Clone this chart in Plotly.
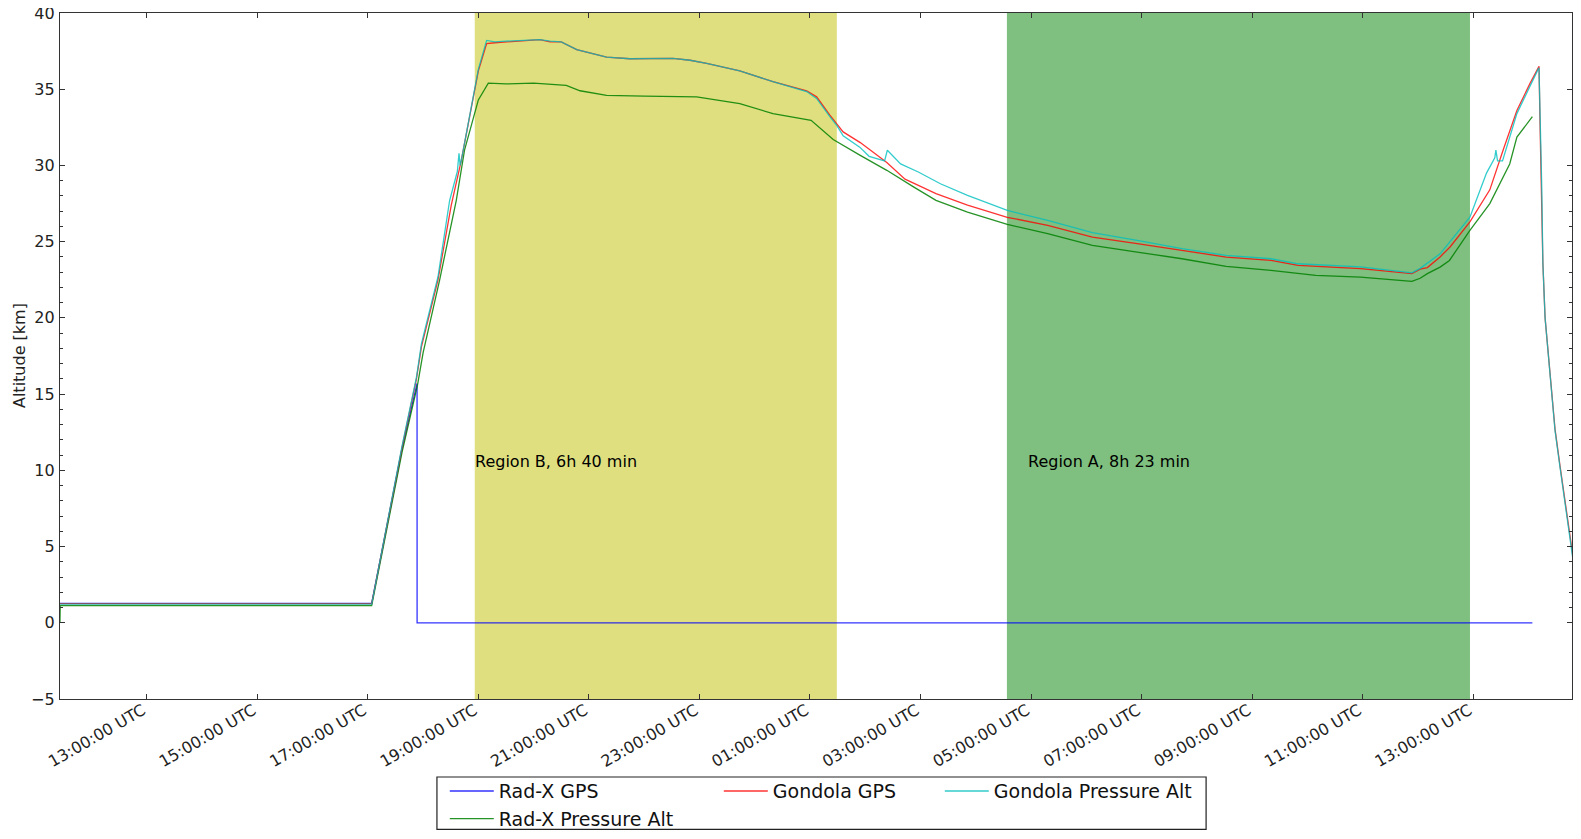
import pandas as pd
import plotly.graph_objects as go

# ---- data (hours since 00:00 UTC of launch day, altitude in km) ----
radx_gps_h = [11.43, 17.07, 17.62, 17.891, 17.892, 38.07]
radx_gps_km = [1.27, 1.27, 11.4, 15.7, 0.0, 0.0]

radx_press_h = [11.43, 11.435, 17.07, 17.62, 17.90, 18.0, 18.30, 18.60, 18.75, 19.0, 19.18, 19.5,
                20.0, 20.59, 20.84, 21.32, 22.0, 22.95, 23.73, 24.33, 25.02, 25.42, 25.91, 26.39,
                26.88, 27.28, 27.85, 28.57, 29.30, 30.11, 30.92, 31.73, 32.53, 33.34, 34.15, 34.96,
                35.89, 36.04, 36.17, 36.40, 36.57, 36.94, 37.30, 37.66, 37.79, 37.97, 38.07]
radx_press_km = [0.0, 1.13, 1.13, 11.2, 15.6, 17.7, 22.5, 27.7, 31.0, 34.3, 35.4, 35.35,
                 35.4, 35.25, 34.9, 34.6, 34.55, 34.5, 34.05, 33.4, 32.96, 31.7, 30.66, 29.68,
                 28.58, 27.71, 26.94, 26.14, 25.52, 24.76, 24.32, 23.88, 23.38, 23.12, 22.79, 22.68,
                 22.4, 22.6, 22.9, 23.33, 23.77, 25.74, 27.5, 30.1, 31.86, 32.74, 33.2]

gondola_gps_h = [11.43, 17.07, 17.62, 17.88, 17.97, 18.27, 18.51, 18.69, 19.0, 19.15, 19.3, 19.5,
                 19.8, 20.11, 20.3, 20.5, 20.78, 21.0, 21.32, 21.74, 22.2, 22.52, 22.83, 23.13,
                 23.73, 24.33, 24.94, 25.12, 25.36, 25.49, 25.60, 25.91, 26.39, 26.72, 27.28, 27.85,
                 28.57, 29.30, 30.11, 30.92, 31.73, 32.53, 33.34, 33.83, 34.96, 35.89, 36.04, 36.17,
                 36.40, 36.58, 36.94, 37.30, 37.54, 37.79, 38.03, 38.19, 38.21, 38.23, 38.26, 38.30,
                 38.39, 38.48, 38.57, 38.69, 38.81, 38.93, 39.0]
gondola_gps_km = [1.25, 1.25, 11.5, 16.0, 18.1, 22.5, 27.4, 30.3, 36.2, 38.0, 38.05, 38.1,
                  38.15, 38.25, 38.1, 38.1, 37.6, 37.4, 37.1, 37.0, 37.0, 37.03, 36.9, 36.7,
                  36.2, 35.5, 34.9, 34.5, 33.3, 32.7, 32.2, 31.5, 30.2, 29.1, 28.15, 27.4,
                  26.6, 26.07, 25.3, 24.87, 24.43, 23.99, 23.77, 23.45, 23.23, 22.9, 23.2, 23.3,
                  24.0, 24.65, 26.3, 28.4, 31.0, 33.6, 35.4, 36.5, 32.5, 28.0, 23.6, 20.0,
                  16.36, 12.7, 10.3, 7.14, 4.2, 1.8, 1.2]

gondola_press_h = [11.43, 17.07, 17.62, 17.88, 17.97, 18.27, 18.48, 18.62, 18.65, 18.67, 18.69, 19.0,
                   19.15, 19.3, 19.5, 19.8, 20.11, 20.3, 20.5, 20.78, 21.0, 21.32, 21.74, 22.2,
                   22.52, 22.83, 23.13, 23.73, 24.33, 24.94, 25.12, 25.36, 25.49, 25.60, 25.90, 26.07,
                   26.35, 26.40, 26.64, 26.96, 27.36, 27.85, 28.57, 29.30, 30.11, 30.92, 31.73, 32.53,
                   33.34, 33.83, 34.96, 35.89, 36.04, 36.40, 36.94, 37.24, 37.39, 37.41, 37.44, 37.53,
                   37.79, 38.18, 38.19, 38.24, 38.26, 38.30, 38.39, 38.48, 38.57, 38.69, 38.81, 38.93, 39.0]
gondola_press_km = [1.22, 1.22, 11.6, 16.1, 18.3, 22.7, 27.7, 29.6, 30.8, 30.0, 30.3, 36.3,
                    38.2, 38.1, 38.15, 38.2, 38.25, 38.15, 38.1, 37.6, 37.4, 37.1, 37.0, 37.0,
                    37.03, 36.9, 36.7, 36.2, 35.5, 34.85, 34.4, 33.2, 32.6, 31.95, 31.2, 30.6,
                    30.3, 31.0, 30.1, 29.57, 28.8, 28.04, 27.05, 26.4, 25.6, 25.08, 24.54, 24.1,
                    23.88, 23.55, 23.35, 22.95, 23.25, 24.2, 26.6, 29.5, 30.5, 31.0, 30.3, 30.3,
                    33.4, 36.35, 36.4, 28.5, 23.6, 20.0, 16.3, 12.6, 10.2, 7.0, 4.0, 1.5, 0.9]

# shaded regions (start hour, end hour, label, label hour, colour)
regions = [
    (18.935, 25.486, "Region B, 6h 40 min", 19.0, "rgba(191,191,0,0.5)"),
    (28.563, 36.941, "Region A, 8h 23 min", 29.0, "rgba(0,128,0,0.5)"),
]
label_alt_km = 10.6

x_range_h = [11.431, 38.787]
y_range = [-5, 40]

base = pd.Timestamp("2015-09-25 00:00:00")


def to_time(hours):
    return [base + pd.Timedelta(hours=h) for h in hours]


FONT = "DejaVu Sans"
fig = go.Figure()

series = [
    ("Rad-X GPS", radx_gps_h, radx_gps_km, "rgba(0,0,255,0.8)", "a", 215),
    ("Rad-X Pressure Alt", radx_press_h, radx_press_km, "rgba(0,128,0,0.85)", "a", 215),
    ("Gondola GPS", gondola_gps_h, gondola_gps_km, "rgba(255,0,0,0.8)", "b", 162),
    ("Gondola Pressure Alt", gondola_press_h, gondola_press_km, "rgba(0,191,191,0.8)", "c", 212),
]
for name, h, km, col, grp, lw in series:
    fig.add_trace(go.Scatter(
        x=to_time(h), y=km, mode="lines", name=name,
        line=dict(color=col, width=1.3),
        legendgroup=grp, legendwidth=lw,
    ))

for start, end, label, lab_h, col in regions:
    fig.add_shape(type="rect", xref="x", yref="paper",
                  x0=base + pd.Timedelta(hours=start), x1=base + pd.Timedelta(hours=end),
                  y0=0, y1=1, fillcolor=col, line=dict(width=0), layer="below")
    fig.add_annotation(x=base + pd.Timedelta(hours=lab_h), y=label_alt_km, text=label,
                       showarrow=False, xanchor="left", yanchor="middle", xshift=-5,
                       font=dict(family=FONT, size=16, color="black"))

# y axis title
fig.add_annotation(xref="paper", yref="paper", x=-0.0271, y=0.5, text="Altitude [km]",
                   textangle=-90, showarrow=False, xanchor="center", yanchor="middle",
                   font=dict(family=FONT, size=16, color="#222222"))

# legend frame
fig.add_shape(type="rect", xref="paper", yref="paper",
              x0=0.2493, x1=0.758, y0=-0.1137, y1=-0.1900,
              line=dict(color="#222222", width=1.2), fillcolor="rgba(0,0,0,0)", layer="above")

axis_line = "#333333"
fig.update_layout(
    width=1565, height=823, autosize=False,
    margin=dict(l=52, r=1, t=5, b=132),
    plot_bgcolor="white", paper_bgcolor="white",
    font=dict(family=FONT, size=16, color="#222222"),
    showlegend=True,
    legend=dict(
        orientation="h", traceorder="grouped", itemwidth=44,
        xref="container", yref="container",
        x=0.2791, xanchor="left", y=0.0715, yanchor="top",
        font=dict(family=FONT, size=19, color="#111111"),
        borderwidth=0, bgcolor="rgba(0,0,0,0)",
    ),
    xaxis=dict(
        type="date", automargin=False,
        range=[base + pd.Timedelta(hours=x_range_h[0]), base + pd.Timedelta(hours=x_range_h[1])],
        tick0="2015-09-25 13:00:00", dtick=2 * 3600 * 1000,
        tickformat="%H:%M:%S UTC", tickangle=-30, ticklabelstandoff=-5, ticklabelshift=-4,
        ticks="inside", ticklen=5, tickcolor=axis_line, tickwidth=1,
        showline=True, linecolor=axis_line, linewidth=1.3, mirror="ticks",
        showgrid=False, zeroline=False,
        tickfont=dict(family=FONT, size=16, color="#222222"),
    ),
    yaxis=dict(
        range=y_range, dtick=5, tick0=0, automargin=False, ticklabelstandoff=1,
        ticklabeloverflow="allow",
        ticks="inside", ticklen=5, tickcolor=axis_line, tickwidth=1,
        showline=True, linecolor=axis_line, linewidth=1.3, mirror="ticks",
        showgrid=False, zeroline=False,
        tickfont=dict(family=FONT, size=16, color="#222222"),
        minor=dict(tickmode="array",
                   tickvals=[v for v in range(1, 30) if v % 5 != 0],
                   ticks="inside", ticklen=3, tickcolor=axis_line, showgrid=False),
    ),
)

fig.write_html("out.html")
